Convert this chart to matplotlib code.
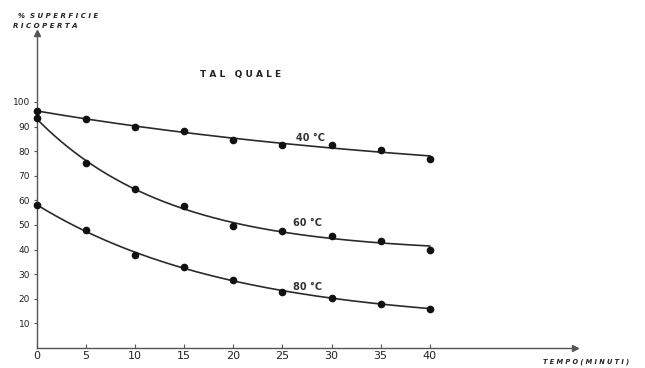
import numpy as np
import matplotlib
matplotlib.use("Agg")
import matplotlib.pyplot as plt

# Time (minutes) and % of surface still covered at three temperatures
minutes = [0, 5, 10, 15, 20, 25, 30, 35, 40]
cover_40 = [96.5, 93.0, 90.0, 88.0, 84.5, 82.5, 82.5, 80.5, 77.0]
cover_60 = [93.5, 75.0, 64.5, 57.7, 49.6, 47.5, 45.5, 43.5, 40.0]
cover_80 = [58.0, 48.0, 37.8, 33.0, 27.6, 22.8, 20.3, 18.0, 16.0]
series_labels = ["40 °C", "60 °C", "80 °C"]
label_pos = [(27.9, 85.5), (27.6, 50.8), (27.6, 24.8)]

x_ticks = [0, 5, 10, 15, 20, 25, 30, 35, 40]
y_ticks = [10, 20, 30, 40, 50, 60, 70, 80, 90, 100]


def exp_decay_fit(x, y):
    """Least-squares fit of y = a + b*exp(-k x), scanning the rate k."""
    best = None
    for k in np.linspace(0.001, 0.3, 600):
        A = np.column_stack([np.ones_like(x), np.exp(-k * x)])
        coef, res, *_ = np.linalg.lstsq(A, y, rcond=None)
        err = np.sum((A @ coef - y) ** 2)
        if best is None or err < best[0]:
            best = (err, k, coef)
    _, k, (a, b) = best
    return lambda t: a + b * np.exp(-k * t)


ink = "#2b2b2b"
fig = plt.figure(figsize=(6.45, 3.68), dpi=100)
ax = fig.add_axes([37 / 645, 20 / 368, 538 / 645, 315 / 368])
ax.set_xlim(0, 54.8)
ax.set_ylim(0, 128)

for s in ["top", "right"]:
    ax.spines[s].set_visible(False)
for s in ["left", "bottom"]:
    ax.spines[s].set_color("#555555")
    ax.spines[s].set_linewidth(1.0)

# axis arrow heads
ax.plot(1, 0, marker=">", color="#555555", markersize=4,
        transform=ax.get_yaxis_transform(), clip_on=False)
ax.plot(0, 1, marker="^", color="#555555", markersize=4,
        transform=ax.get_xaxis_transform(), clip_on=False)

xs = np.array(minutes, dtype=float)
xfine = np.linspace(0, 40, 200)
for vals, lab, pos in zip([cover_40, cover_60, cover_80], series_labels, label_pos):
    curve = exp_decay_fit(xs, np.array(vals, dtype=float))
    ax.plot(xfine, curve(xfine), color=ink, lw=1.2, zorder=2, clip_on=False)
    ax.plot(xs, vals, "o", color="#111111", markersize=4.5, zorder=3,
            clip_on=False)
    ax.text(pos[0], pos[1], lab, fontsize=7, fontweight="bold",
            color="#333333", ha="center", va="center")

ax.set_xticks(x_ticks)
ax.set_xticklabels([str(v) for v in x_ticks], fontsize=8, color="#222222")
ax.tick_params(axis="x", direction="in", length=3, pad=2, color="#555555")
ax.set_yticks(y_ticks)
ax.set_yticklabels([str(v) for v in y_ticks], fontsize=6.5, color="#222222")
ax.tick_params(axis="y", direction="out", length=2, pad=3, color="#555555")

fig.text(200 / 645, 1 - 75 / 368, "T A L   Q U A L E", fontsize=6.5,
         fontweight="bold", color="#222222", va="center", ha="left")
fig.text(18 / 645, 1 - 16 / 368, "%  S U P E R F I C I E", fontsize=5,
         fontstyle="italic", fontweight="bold", color="#222222",
         va="center", ha="left")
fig.text(13 / 645, 1 - 26 / 368, "R I C O P E R T A", fontsize=5,
         fontstyle="italic", fontweight="bold", color="#222222",
         va="center", ha="left")
fig.text(543 / 645, 1 - 362 / 368, "T E M P O ( M I N U T I )", fontsize=4.8,
         fontstyle="italic", fontweight="bold", color="#222222",
         va="center", ha="left")

fig.savefig("out.png", dpi=100)
